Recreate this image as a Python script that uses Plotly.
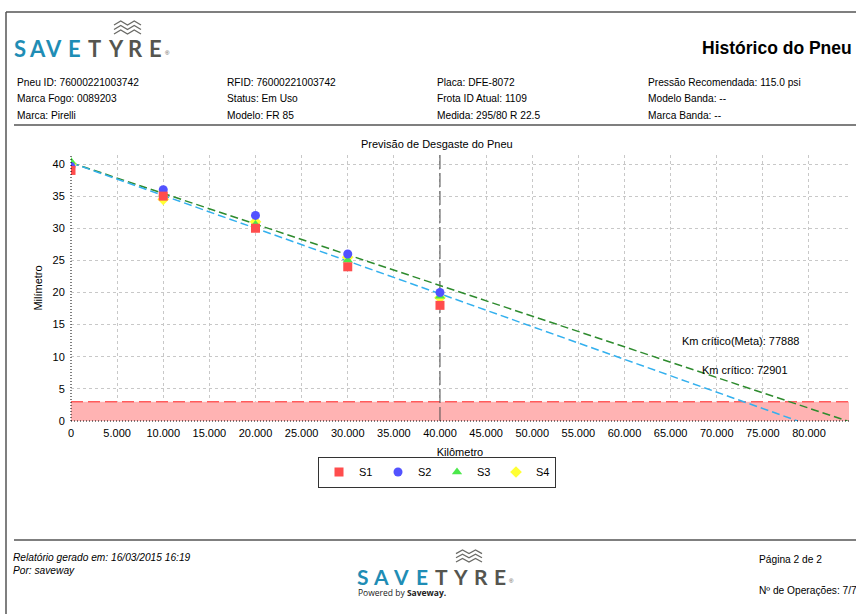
import plotly.graph_objects as go

W, H = 856, 614

# ---------------- data ----------------
km = [0, 10000, 20000, 30000, 40000]
s1 = [39.0, 35.0, 30.0, 24.0, 18.0]
s2 = [39.6, 36.0, 32.0, 26.0, 20.0]
s3 = [40.4, 35.3, 30.6, 25.0, 19.4]
s4 = [40.0, 34.5, 31.0, 25.5, 19.2]

trend_km = [0, 78800]
trend_mm = [40.2, 0]
meta_km = [0, 84170]
meta_mm = [40.2, 0]

km_critico = 72901
km_critico_meta = 77888
limite_mm = 3
km_atual = 40000

x_max = 84340
y_max = 41.4

x_ticks = [0, 5000, 10000, 15000, 20000, 25000, 30000, 35000, 40000,
           45000, 50000, 55000, 60000, 65000, 70000, 75000, 80000]
y_ticks = [0, 5, 10, 15, 20, 25, 30, 35, 40]

series_names = ["S1", "S2", "S3", "S4"]
series_vals = [s1, s2, s3, s4]
series_colors = ["#ff4d4d", "#5252ff", "#4be84b", "#ffff33"]
series_symbols = ["square", "circle", "triangle-up", "diamond"]

info_rows = [
    ["Pneu ID: 76000221003742", "RFID: 76000221003742", "Placa: DFE-8072", "Pressão Recomendada: 115.0 psi"],
    ["Marca Fogo: 0089203", "Status: Em Uso", "Frota ID Atual: 1109", "Modelo Banda: --"],
    ["Marca: Pirelli", "Modelo: FR 85", "Medida: 295/80 R 22.5", "Marca Banda: --"],
]

FONT = "Liberation Sans, Arial, sans-serif"


def px(x):
    return x / W


def py(y):
    return 1 - y / H


fig = go.Figure()

# critical zone (0..limite) and limit line
fig.add_trace(go.Scatter(x=[0, x_max, x_max, 0], y=[0, 0, limite_mm, limite_mm], mode="lines",
                         fill="toself", fillcolor="#ffb3b3", line=dict(width=0),
                         showlegend=False, hoverinfo="skip"))
fig.add_trace(go.Scatter(x=[0, x_max], y=[limite_mm, limite_mm], mode="lines",
                         line=dict(color="#ff5c5c", width=1.5, dash="12px,5px"),
                         showlegend=False, hoverinfo="skip"))
# current km marker line
fig.add_trace(go.Scatter(x=[km_atual, km_atual], y=[0, y_max], mode="lines",
                         line=dict(color="#4a4a4a", width=1, dash="14px,4px"),
                         showlegend=False, hoverinfo="skip"))

# trend lines
fig.add_trace(go.Scatter(x=meta_km, y=meta_mm, mode="lines", showlegend=False,
                         line=dict(color="#2e8b2e", width=1.5, dash="8px,4px"), hoverinfo="skip"))
fig.add_trace(go.Scatter(x=trend_km, y=trend_mm, mode="lines", showlegend=False,
                         line=dict(color="#33b0ee", width=1.5, dash="8px,4px"), hoverinfo="skip"))

# series markers (drawn S4 first so S1 on top)
for i in [3, 2, 1, 0]:
    fig.add_trace(go.Scatter(
        x=km, y=series_vals[i], mode="markers", name=series_names[i], legendrank=i + 1,
        marker=dict(color=series_colors[i], symbol=series_symbols[i], size=9, line=dict(width=0)),
    ))

x0d, x1d = 71, 849
y0d, y1d = 421, 155

fig.update_layout(
    width=W, height=H,
    margin=dict(l=0, r=0, t=0, b=0, autoexpand=False),
    paper_bgcolor="white", plot_bgcolor="white",
    font=dict(family=FONT, size=11, color="black"),
    separators=",.",
    xaxis=dict(domain=[px(x0d), px(x1d)], range=[0, x_max], tickvals=x_ticks, tickformat=",d",
               automargin=False,
               showgrid=True, gridcolor="#c8c8c8", griddash="3px,3px", gridwidth=1,
               zeroline=False, showline=False, ticks="outside", ticklen=2, tickcolor="rgba(0,0,0,0)",
               tickfont=dict(size=11),
               title=dict(text="Kilômetro", standoff=10, font=dict(size=11))),
    yaxis=dict(domain=[py(y0d), py(y1d)], range=[0, y_max], tickvals=y_ticks,
               automargin=False,
               showgrid=True, gridcolor="#c8c8c8", griddash="3px,3px", gridwidth=1,
               zeroline=False, showline=False, ticks="outside", ticklen=3, tickcolor="rgba(0,0,0,0)",
               tickfont=dict(size=11),
               title=dict(text="Milímetro", standoff=7, font=dict(size=11))),
    legend=dict(orientation="h", x=px(437), y=py(472), xanchor="center", yanchor="middle",
                bordercolor="#333333", borderwidth=1, font=dict(size=11),
                itemwidth=30, entrywidth=14, entrywidthmode="pixels"),
)

shapes = []
# dotted axis lines
shapes.append(dict(type="line", xref="x domain", yref="y domain", x0=0, x1=0, y0=0, y1=1,
                   line=dict(color="black", width=1, dash="1px,2px")))
shapes.append(dict(type="line", xref="x domain", yref="y domain", x0=0, x1=1, y0=0, y1=0,
                   line=dict(color="black", width=1, dash="1px,2px")))


# page frame lines
def pline(xa, ya, xb, yb, color="#555555", w=1.5):
    shapes.append(dict(type="line", xref="paper", yref="paper", x0=px(xa), y0=py(ya), x1=px(xb), y1=py(yb),
                       line=dict(color=color, width=w)))


pline(6, 12, 856, 12)
pline(6, 12, 6, 614)
pline(14, 125, 856, 125)
pline(14, 540, 856, 540)


# wave icons
def wave(xl, xr, ytop, gap, amp):
    step = (xr - xl) / 4
    for k in range(3):
        yb = ytop + k * gap
        pts = [(xl, yb + amp), (xl + step, yb), (xl + 2 * step, yb + amp), (xl + 3 * step, yb), (xr, yb + amp)]
        path = "M " + " L ".join(f"{px(a):.5f},{py(b):.5f}" for a, b in pts)
        shapes.append(dict(type="path", xref="paper", yref="paper", path=path,
                           line=dict(color="#6a6a66", width=1.3)))


wave(114, 141, 21, 4.5, 4)
wave(456, 482, 550, 4.2, 3.6)

fig.update_layout(shapes=shapes)

ann = []


def txt(x, y, s, size=10.2, anchor="left", color="black", family=FONT, **kw):
    if anchor == "left":
        x = x - 3
    ann.append(dict(x=px(x), y=py(y), xref="paper", yref="paper", text=s, showarrow=False,
                    xanchor=anchor, yanchor="middle", font=dict(size=size, color=color, family=family), **kw))


# header logo letters
logo = "SAVETYRE"
teal, gray = "#1f8db5", "#55554f"
hx = [20, 37, 54, 74, 94, 116, 135, 155]
for i, ch in enumerate(logo):
    txt(hx[i], 48, f"<b>{ch}</b>", size=22, anchor="center", color=teal if i < 4 else gray, family="Lato, " + FONT)
txt(167, 53, "®", size=6, anchor="center", color=gray)

txt(854, 48, "<b>Histórico do Pneu</b>", size=17.5, anchor="right")

cols = [18, 228, 438, 649]
rows_y = [82, 99, 116]
for r, row in enumerate(info_rows):
    for c, s in enumerate(row):
        txt(cols[c], rows_y[r], s)

# chart title
txt(437, 144, "Previsão de Desgaste do Pneu", size=11, anchor="center")

# annotations in data coordinates
ann.append(dict(x=km_critico_meta, y=12.5, xref="x", yref="y", text=f"Km crítico(Meta): {km_critico_meta}",
                showarrow=False, xanchor="right", yanchor="middle", xshift=12, font=dict(size=11)))
ann.append(dict(x=km_critico, y=7.9, xref="x", yref="y", text=f"Km crítico: {km_critico}",
                showarrow=False, xanchor="center", yanchor="middle", xshift=2, font=dict(size=11)))

# footer
txt(14, 557, "<i>Relatório gerado em: 16/03/2015 16:19</i>")
txt(14, 570, "<i>Por: saveway</i>")
txt(760, 559, "Página 2 de 2")
txt(760, 590, "Nº de Operações: 7/7")

fx = [363, 381, 401, 422, 441, 461, 481, 500]
for i, ch in enumerate(logo):
    txt(fx[i], 576, f"<b>{ch}</b>", size=21, anchor="center", color=teal if i < 4 else gray, family="Lato, " + FONT)
txt(511, 581, "®", size=6, anchor="center", color=gray)
txt(359, 592, "Powered by <b>Saveway.</b>", size=8.5, color="#222222", family="Open Sans, " + FONT)

fig.update_layout(annotations=ann)

fig.write_html("out.html", config={"displayModeBar": False},
               post_script="document.body.style.margin='0px';")
